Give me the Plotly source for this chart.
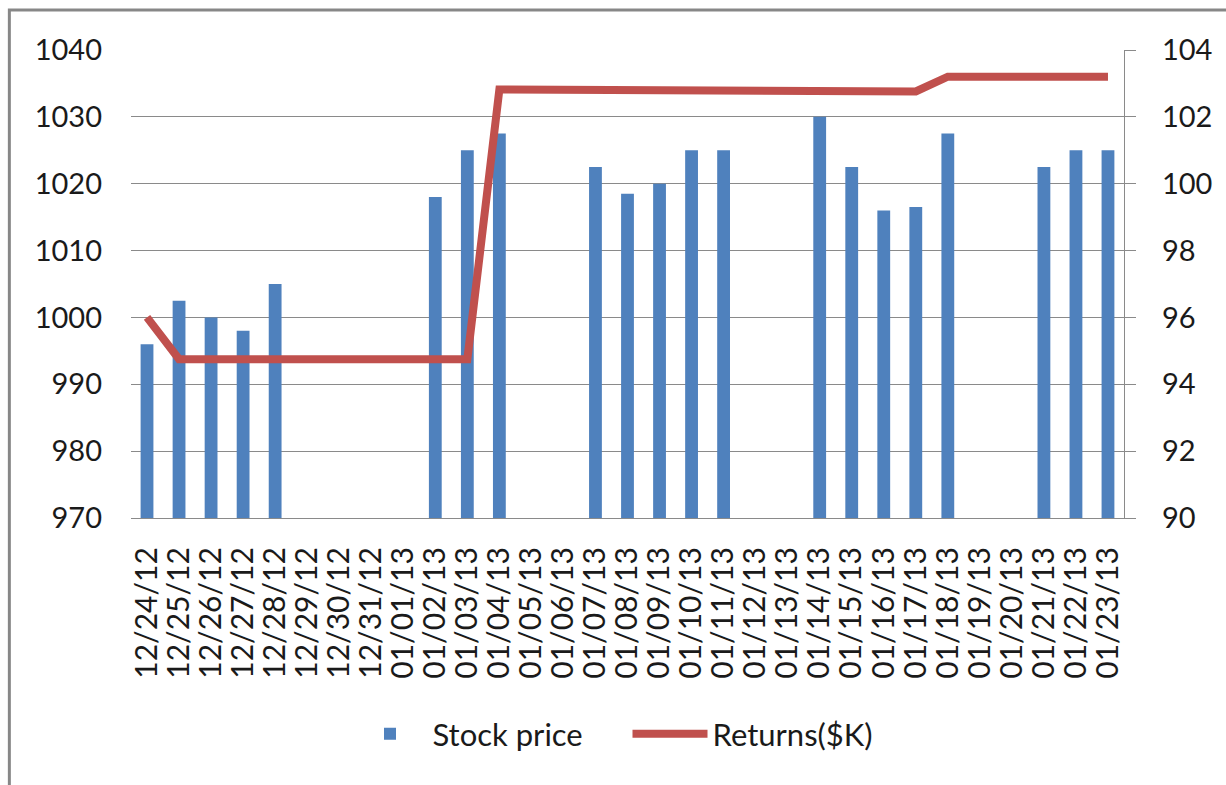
import plotly.graph_objects as go

# Trading days and prices
dates = ["12/24/12", "12/25/12", "12/26/12", "12/27/12", "12/28/12", "12/29/12",
         "12/30/12", "12/31/12", "01/01/13", "01/02/13", "01/03/13", "01/04/13",
         "01/05/13", "01/06/13", "01/07/13", "01/08/13", "01/09/13", "01/10/13",
         "01/11/13", "01/12/13", "01/13/13", "01/14/13", "01/15/13", "01/16/13",
         "01/17/13", "01/18/13", "01/19/13", "01/20/13", "01/21/13", "01/22/13",
         "01/23/13"]

stock_price = [996, 1002.5, 1000, 998, 1005, None,
               None, None, None, 1018, 1025, 1027.5,
               None, None, 1022.5, 1018.5, 1020, 1025,
               1025, None, None, 1030, 1022.5, 1016,
               1016.5, 1027.5, None, None, 1022.5, 1025,
               1025]

returns_k = [96.0, 94.75, 94.75, 94.75, 94.75, 94.75,
             94.75, 94.75, 94.75, 94.75, 94.75, 102.82,
             102.82, 102.82, 102.82, 102.82, 102.82, 102.82,
             102.82, 102.79, 102.76, 102.76, 102.76, 102.76,
             102.76, 103.2, 103.2, 103.2, 103.2, 103.2,
             103.2]

left_ticks = [970, 980, 990, 1000, 1010, 1020, 1030, 1040]
right_ticks = [90, 92, 94, 96, 98, 100, 102, 104]

FONT = "Lato"
TXT = "#1a1a1a"
GRID = "#8a8a8a"

fig = go.Figure()

fig.add_trace(go.Bar(
    x=dates, y=stock_price, name="Stock price",
    marker=dict(color="#4F81BD", line=dict(width=0)),
    width=0.4, yaxis="y",
))

fig.add_trace(go.Scatter(
    x=dates, y=returns_k, name="Returns($K)", mode="lines",
    line=dict(color="#C0504D", width=8),
    yaxis="y2",
))

fig.update_layout(
    width=1226, height=785,
    margin=dict(l=131, r=102, t=50, b=267),
    paper_bgcolor="white", plot_bgcolor="white",
    font=dict(family=FONT, color=TXT),
    showlegend=True,
    legend=dict(
        orientation="h", x=0.5, xanchor="center", y=-0.462, yanchor="middle",
        font=dict(family=FONT, size=31, color=TXT),
        itemwidth=75, entrywidth=190, entrywidthmode="pixels",
    ),
    xaxis=dict(
        type="category", categoryorder="array", categoryarray=dates,
        tickmode="linear", dtick=1,
        tickangle=-90, tickfont=dict(family=FONT, size=30, color=TXT),
        showgrid=False, showline=True, linecolor=GRID, linewidth=1.3,
        ticks="", ticklabelstandoff=16, zeroline=False,
    ),
    yaxis=dict(
        range=[970, 1040], tickvals=left_ticks,
        tickfont=dict(family=FONT, size=29, color=TXT),
        showgrid=True, gridcolor=GRID, gridwidth=1.3,
        showline=False, ticks="", ticklabelstandoff=28, zeroline=False,
    ),
    yaxis2=dict(
        range=[90, 104], tickvals=right_ticks, overlaying="y", side="right",
        tickfont=dict(family=FONT, size=29, color=TXT),
        showgrid=False, showline=True, linecolor=GRID, linewidth=1.3,
        ticks="outside", ticklen=11, tickcolor=GRID, tickwidth=1.3,
        ticklabelstandoff=20, zeroline=False,
    ),
    bargap=0.6,
    shapes=[dict(
        type="rect", xref="paper", yref="paper",
        x0=-0.1225, x1=1.12, y0=-0.58, y1=1.0855,
        line=dict(color="#878787", width=3), fillcolor="rgba(0,0,0,0)",
        layer="below",
    )],
)

fig.write_html("out.html")
